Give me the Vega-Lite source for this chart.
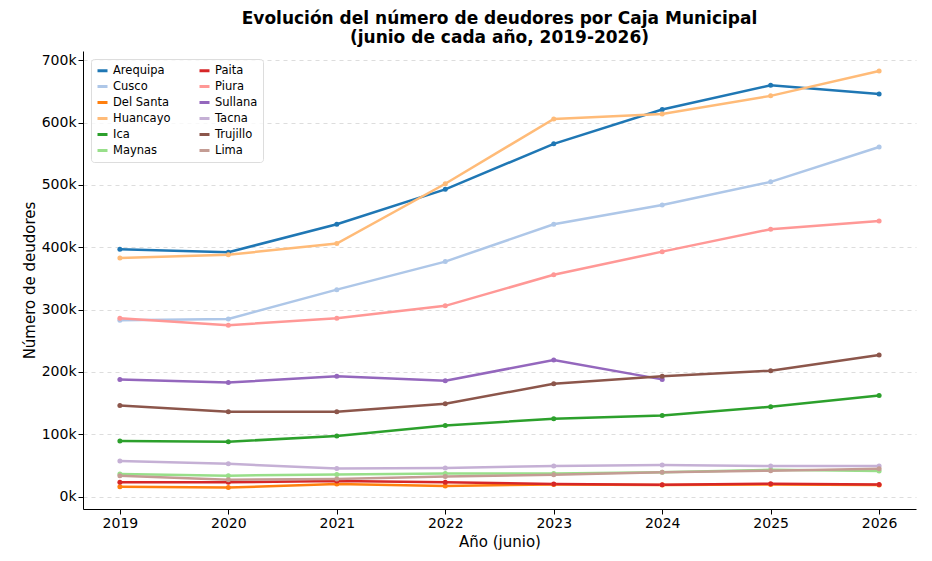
{
  "$schema": "https://vega.github.io/schema/vega-lite/v6.json",
  "width": 932,
  "height": 561,
  "autosize": {"type": "fit", "contains": "padding"},
  "padding": {"left": 22, "right": 16, "top": 10, "bottom": 12},
  "config": {"font": "DejaVu Sans", "view": {"stroke": null}},
  "title": {"text": ["Evolución del número de deudores por Caja Municipal", "(junio de cada año, 2019-2026)"], "fontSize": 17, "fontWeight": "bold", "color": "#000"},
  "data": {"values": [
    {"c":"Arequipa","y":"2019","v":397000},{"c":"Arequipa","y":"2020","v":392000},{"c":"Arequipa","y":"2021","v":437000},{"c":"Arequipa","y":"2022","v":493000},{"c":"Arequipa","y":"2023","v":566000},{"c":"Arequipa","y":"2024","v":621000},{"c":"Arequipa","y":"2025","v":660000},{"c":"Arequipa","y":"2026","v":646000},
    {"c":"Cusco","y":"2019","v":283000},{"c":"Cusco","y":"2020","v":285000},{"c":"Cusco","y":"2021","v":332000},{"c":"Cusco","y":"2022","v":377000},{"c":"Cusco","y":"2023","v":437000},{"c":"Cusco","y":"2024","v":468000},{"c":"Cusco","y":"2025","v":505000},{"c":"Cusco","y":"2026","v":561000},
    {"c":"Del Santa","y":"2019","v":15700},{"c":"Del Santa","y":"2020","v":14500},{"c":"Del Santa","y":"2021","v":20000},{"c":"Del Santa","y":"2022","v":17000},{"c":"Del Santa","y":"2023","v":19500},{"c":"Del Santa","y":"2024","v":18500},{"c":"Del Santa","y":"2025","v":19500},{"c":"Del Santa","y":"2026","v":18500},
    {"c":"Huancayo","y":"2019","v":383000},{"c":"Huancayo","y":"2020","v":388000},{"c":"Huancayo","y":"2021","v":406000},{"c":"Huancayo","y":"2022","v":502000},{"c":"Huancayo","y":"2023","v":606000},{"c":"Huancayo","y":"2024","v":614000},{"c":"Huancayo","y":"2025","v":643000},{"c":"Huancayo","y":"2026","v":683000},
    {"c":"Ica","y":"2019","v":89000},{"c":"Ica","y":"2020","v":88000},{"c":"Ica","y":"2021","v":97000},{"c":"Ica","y":"2022","v":114000},{"c":"Ica","y":"2023","v":125000},{"c":"Ica","y":"2024","v":130000},{"c":"Ica","y":"2025","v":144000},{"c":"Ica","y":"2026","v":162000},
    {"c":"Maynas","y":"2019","v":36000},{"c":"Maynas","y":"2020","v":33500},{"c":"Maynas","y":"2021","v":35500},{"c":"Maynas","y":"2022","v":37000},{"c":"Maynas","y":"2023","v":37000},{"c":"Maynas","y":"2024","v":39000},{"c":"Maynas","y":"2025","v":43000},{"c":"Maynas","y":"2026","v":41000},
    {"c":"Paita","y":"2019","v":22800},{"c":"Paita","y":"2020","v":22800},{"c":"Paita","y":"2021","v":25000},{"c":"Paita","y":"2022","v":22800},{"c":"Paita","y":"2023","v":20000},{"c":"Paita","y":"2024","v":19000},{"c":"Paita","y":"2025","v":20600},{"c":"Paita","y":"2026","v":19500},
    {"c":"Piura","y":"2019","v":286000},{"c":"Piura","y":"2020","v":275000},{"c":"Piura","y":"2021","v":286000},{"c":"Piura","y":"2022","v":306000},{"c":"Piura","y":"2023","v":356000},{"c":"Piura","y":"2024","v":393000},{"c":"Piura","y":"2025","v":429000},{"c":"Piura","y":"2026","v":442000},
    {"c":"Sullana","y":"2019","v":188000},{"c":"Sullana","y":"2020","v":183000},{"c":"Sullana","y":"2021","v":193000},{"c":"Sullana","y":"2022","v":186000},{"c":"Sullana","y":"2023","v":219000},{"c":"Sullana","y":"2024","v":188000},
    {"c":"Tacna","y":"2019","v":57000},{"c":"Tacna","y":"2020","v":52600},{"c":"Tacna","y":"2021","v":45000},{"c":"Tacna","y":"2022","v":45700},{"c":"Tacna","y":"2023","v":49000},{"c":"Tacna","y":"2024","v":50500},{"c":"Tacna","y":"2025","v":49000},{"c":"Tacna","y":"2026","v":49000},
    {"c":"Trujillo","y":"2019","v":146000},{"c":"Trujillo","y":"2020","v":136000},{"c":"Trujillo","y":"2021","v":136000},{"c":"Trujillo","y":"2022","v":149000},{"c":"Trujillo","y":"2023","v":181000},{"c":"Trujillo","y":"2024","v":193000},{"c":"Trujillo","y":"2025","v":202000},{"c":"Trujillo","y":"2026","v":227000},
    {"c":"Lima","y":"2019","v":33500},{"c":"Lima","y":"2020","v":27000},{"c":"Lima","y":"2021","v":28000},{"c":"Lima","y":"2022","v":32000},{"c":"Lima","y":"2023","v":35000},{"c":"Lima","y":"2024","v":39000},{"c":"Lima","y":"2025","v":41500},{"c":"Lima","y":"2026","v":44500}
  ]},
  "mark": {"type": "line", "strokeWidth": 2.5, "point": {"size": 25, "filled": true}},
  "encoding": {
    "x": {"field": "y", "type": "ordinal", "title": "Año (junio)",
      "scale": {"type": "point", "padding": 0.34},
      "axis": {"labelAngle": 0, "labelFontSize": 14, "titleFontSize": 15, "titleFontWeight": "normal", "labelColor": "#000", "titleColor": "#000", "domainColor": "#000", "tickColor": "#000", "grid": false}},
    "y": {"field": "v", "type": "quantitative", "title": "Número de deudores",
      "scale": {"domain": [-20000, 715000], "nice": false, "zero": false},
      "axis": {"values": [0,100000,200000,300000,400000,500000,600000,700000], "labelExpr": "datum.value/1000 + 'k'", "labelFontSize": 14, "titleFontSize": 15, "titleFontWeight": "normal", "labelColor": "#000", "titleColor": "#000", "domainColor": "#000", "tickColor": "#000", "gridDash": [4,4], "gridColor": "#ddd"}},
    "color": {"field": "c", "type": "nominal", "title": null,
      "sort": ["Arequipa","Cusco","Del Santa","Huancayo","Ica","Maynas","Paita","Piura","Sullana","Tacna","Trujillo","Lima"],
      "scale": {"domain": ["Arequipa","Cusco","Del Santa","Huancayo","Ica","Maynas","Paita","Piura","Sullana","Tacna","Trujillo","Lima"],
        "range": ["#1f77b4","#aec7e8","#ff7f0e","#ffbb78","#2ca02c","#98df8a","#d62728","#ff9896","#9467bd","#c5b0d5","#8c564b","#c49c94"]},
      "legend": {"orient": "top-left", "direction": "vertical", "columns": 2, "labelFontSize": 11.5, "labelColor": "#000", "symbolType": "stroke", "symbolStrokeWidth": 3, "columnPadding": 22, "rowPadding": 3, "offset": 8, "fillColor": "rgba(255,255,255,0.8)", "strokeColor": "#ddd", "cornerRadius": 3, "padding": 5}}
  }
}
